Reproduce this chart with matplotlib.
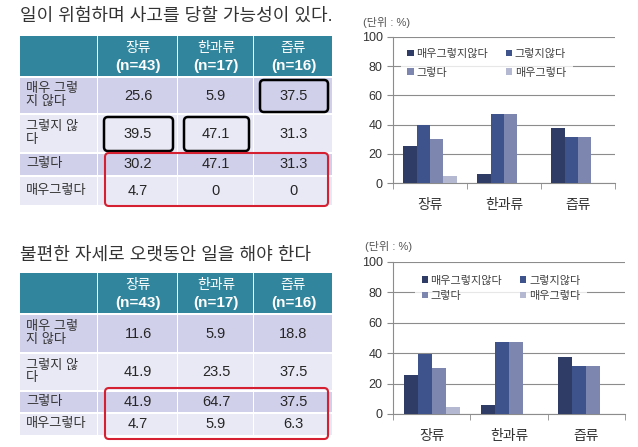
import matplotlib
matplotlib.use('Agg')
import matplotlib.pyplot as plt
from matplotlib.patches import Rectangle, FancyBboxPatch
import numpy as np

plt.rcParams['font.family'] = ['Liberation Sans', 'Noto Sans CJK KR']

groups = ['장류', '한과류', '즙류']
group_n = [43, 17, 16]
answers = ['매우그렇지않다', '그렇지않다', '그렇다', '매우그렇다']
row_labels = ['매우 그렇\n지 않다', '그렇지 않\n다', '그렇다', '매우그렇다']

title_danger = '일이 위험하며 사고를 당할 가능성이 있다.'
danger = [[25.6, 5.9, 37.5],
          [39.5, 47.1, 31.3],
          [30.2, 47.1, 31.3],
          [4.7, 0, 0]]

title_posture = '불편한 자세로 오랫동안 일을 해야 한다'
posture = [[11.6, 5.9, 18.8],
           [41.9, 23.5, 37.5],
           [41.9, 64.7, 37.5],
           [4.7, 5.9, 6.3]]

# the source slide shows the same bar numbers under both tables
chart_top = danger
chart_bottom = danger

W, H = 638, 447
HEAD = '#31859c'
ROW_COLORS = ['#d0d0eb', '#e9e9f5']
BAR_COLORS = ['#2f3d66', '#3e528c', '#7d86ae', '#b4b8d0']
COL_X = [20, 98, 178, 254, 333]

fig = plt.figure(figsize=(W / 100, H / 100), dpi=100)
bg = fig.add_axes([0, 0, 1, 1])
bg.set_xlim(0, W)
bg.set_ylim(H, 0)
bg.axis('off')


def rbox(x0, y0, x1, y1, color, lw):
    bg.add_patch(FancyBboxPatch((x0, y0), x1 - x0, y1 - y0,
                                boxstyle='round,pad=0,rounding_size=4',
                                fill=False, edgecolor=color, linewidth=lw, zorder=5))


def draw_table(title, title_y, top, row_h, values, black_cells, red_pad):
    bg.text(COL_X[0], title_y, title, fontsize=13, color='#333333', va='center', ha='left')
    head_h = 40
    for c in range(4):
        bg.add_patch(Rectangle((COL_X[c], top), COL_X[c + 1] - COL_X[c] - 1, head_h,
                               facecolor=HEAD, edgecolor='none'))
    for c, (g, n) in enumerate(zip(groups, group_n)):
        cx = (COL_X[c + 1] + COL_X[c + 2]) / 2
        bg.text(cx, top + 12, g, fontsize=10, color='white', ha='center', va='center')
        bg.text(cx, top + 30, f'(n={n})', fontsize=11, fontweight='bold',
                color='white', ha='center', va='center')
    edges = []
    y = top + head_h + 2
    for r, h in enumerate(row_h):
        edges.append((y, y + h))
        for c in range(4):
            bg.add_patch(Rectangle((COL_X[c], y), COL_X[c + 1] - COL_X[c] - 1, h,
                                   facecolor=ROW_COLORS[r % 2], edgecolor='none'))
        bg.text(COL_X[0] + 6, y + h / 2, row_labels[r], fontsize=9.5, color='#333333',
                ha='left', va='center', linespacing=1.05)
        for c in range(3):
            cx = (COL_X[c + 1] + COL_X[c + 2]) / 2
            bg.text(cx, y + h / 2, f'{values[r][c]:g}', fontsize=10.5, color='#262626',
                    ha='center', va='center')
        y += h + 2
    for r, c in black_cells:
        y0, y1 = edges[r]
        rbox(COL_X[c + 1] + 6, y0 + 2, COL_X[c + 2] - 5, y1 - 1, 'black', 1.8)
    rbox(COL_X[1] + 7, edges[2][0] - red_pad, COL_X[4] - 5, edges[3][1] + red_pad,
         '#d42030', 1.5)


draw_table(title_danger, 16, 36, [35, 37, 21, 28], danger, [(0, 2), (1, 0), (1, 1)], 1)
draw_table(title_posture, 255, 273, [37, 36, 20, 21], posture, [], 4)


def draw_chart(left, top, right, bottom, values, unit_x, leg_anchor, leg_gap):
    ax = fig.add_axes([left / W, 1 - bottom / H, (right - left) / W, (bottom - top) / H])
    x = np.arange(len(groups))
    w = 0.18
    bars = []
    for i, name in enumerate(answers):
        bars.append(ax.bar(x + (i - 1.5) * w, values[i], w, color=BAR_COLORS[i],
                           label=name, zorder=3))
    ax.set_xlim(-0.5, len(groups) - 0.5)
    ax.set_ylim(0, 100)
    ax.set_yticks(range(0, 101, 20))
    ax.set_xticks(x)
    ax.set_xticklabels(groups, fontsize=10, color='#333333')
    ax.set_xticks(np.arange(-0.5, len(groups)), minor=True)
    ax.tick_params(axis='x', which='major', length=0, pad=11)
    ax.tick_params(axis='x', which='minor', length=4, color='#8c8c8c')
    ax.tick_params(axis='y', length=4, color='#8c8c8c', labelsize=9, labelcolor='#333333')
    ax.grid(axis='y', color='#8c8c8c', linewidth=0.8, zorder=0)
    for s in ['top', 'right']:
        ax.spines[s].set_visible(False)
    for s in ['left', 'bottom']:
        ax.spines[s].set_color('#8c8c8c')
    ax.text(unit_x, 1.1, '(단위 : %)', transform=ax.transAxes, fontsize=8,
            color='#555555', ha='left', va='center')
    # legend is filled column by column, so reorder to read row by row
    order = [0, 2, 1, 3]
    leg = ax.legend([bars[i] for i in order], [answers[i] for i in order],
                    ncol=2, loc='upper left', bbox_to_anchor=leg_anchor,
                    fontsize=8, frameon=True, fancybox=False, handlelength=0.55,
                    handleheight=0.55, handletextpad=0.25, labelspacing=leg_gap,
                    columnspacing=1.6, borderpad=0.6, borderaxespad=0)
    leg.get_frame().set_facecolor('white')
    leg.get_frame().set_edgecolor('none')
    leg.set_zorder(4)
    for t in leg.get_texts():
        t.set_color('#404040')
    return ax


draw_chart(393, 37, 615, 183, chart_top, -0.135, (0.035, 0.965), 0.8)
draw_chart(393, 262, 625, 414, chart_bottom, -0.12, (0.095, 0.955), 0.5)

fig.savefig('out.png', dpi=100)
